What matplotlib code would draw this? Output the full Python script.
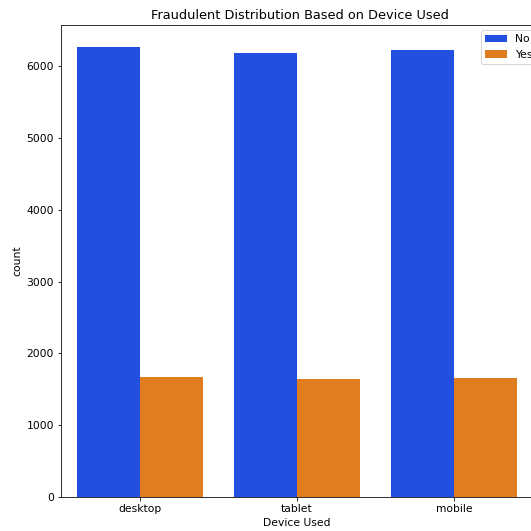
import matplotlib
matplotlib.use("Agg")
import matplotlib.pyplot as plt
import seaborn as sns

# Values
devices = ["desktop", "tablet", "mobile"]
fraud_labels = ["No", "Yes"]
counts_no = [6264, 6190, 6222]
counts_yes = [1671, 1639, 1657]

x_vals = devices + devices
y_vals = counts_no + counts_yes
hue_vals = [fraud_labels[0]] * len(devices) + [fraud_labels[1]] * len(devices)

# reference text is a bit bigger than 10pt at 72 dpi
plt.rcParams["font.size"] = 10.7

fig = plt.figure(figsize=(531 / 72, 531 / 72), dpi=72)
ax = fig.add_axes([61 / 531, 34 / 531, 472 / 531, 472 / 531])

sns.barplot(x=x_vals, y=y_vals, hue=hue_vals, palette="bright", ax=ax)

ax.set_title("Fraudulent Distribution Based on Device Used", fontsize=12.85, x=0.507)
ax.set_xlabel("Device Used")
ax.set_ylabel("count")

# legend sits at the right edge and gets clipped, like in the reference
ax.legend(loc="upper left", bbox_to_anchor=(481 / 531, 1 - 30 / 531),
          bbox_transform=fig.transFigure, borderaxespad=0)

fig.savefig("out.png", dpi=72)
